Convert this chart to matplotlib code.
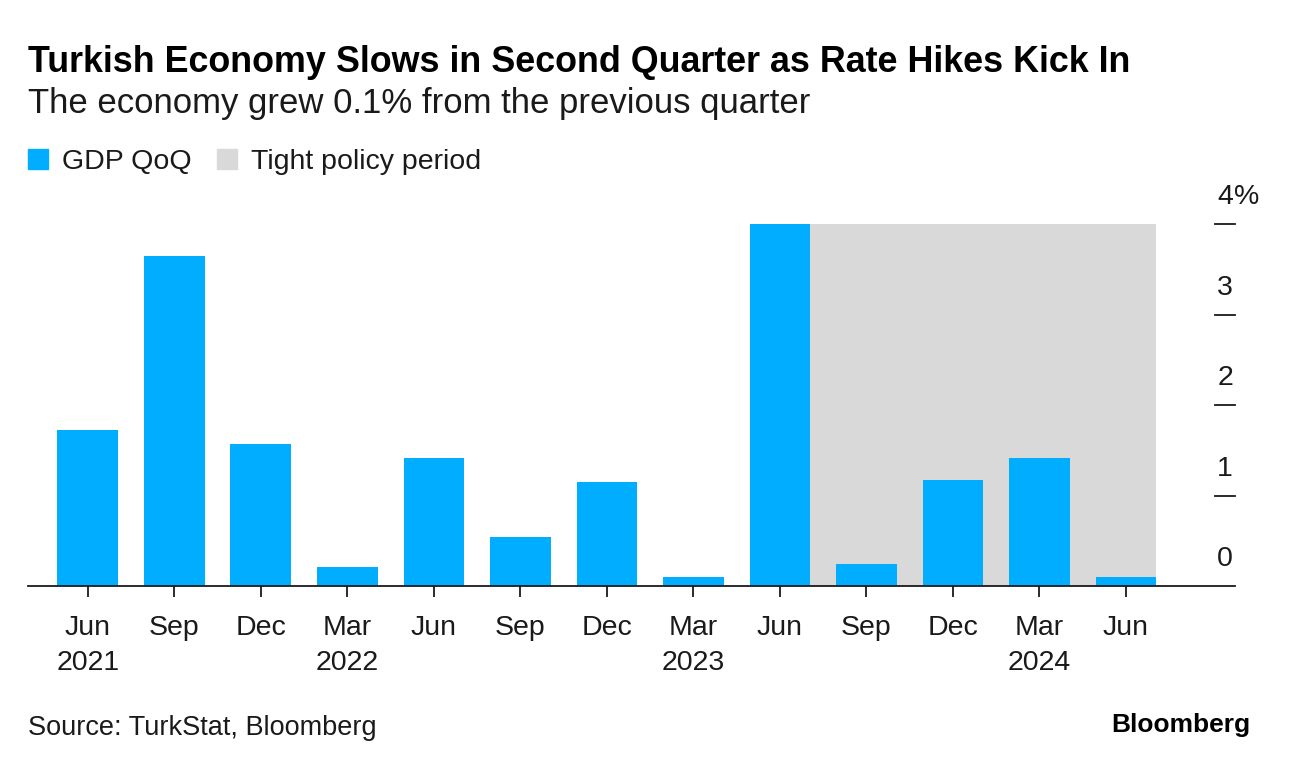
import numpy as np
import matplotlib.pyplot as plt
import matplotlib.transforms as mtransforms
from matplotlib.patches import Patch

plt.rcParams['font.family'] = ['Liberation Sans', 'DejaVu Sans']

# Turkish GDP quarter-on-quarter growth, %
quarters = ['Jun', 'Sep', 'Dec', 'Mar', 'Jun', 'Sep', 'Dec',
            'Mar', 'Jun', 'Sep', 'Dec', 'Mar', 'Jun']
years = ['2021', '', '', '2022', '', '', '', '2023', '', '', '', '2024', '']
gdp_qoq = [1.72, 3.65, 1.57, 0.21, 1.41, 0.54, 1.15,
           0.10, 4.00, 0.24, 1.17, 1.41, 0.10]
tight_start = 8   # index of Jun 2023, shading begins after this bar
tight_end = 12
y_ticks = [0, 1, 2, 3, 4]
y_labels = ['0', '1', '2', '3', '4']

BLUE = '#00adff'
GREY = '#d9d9d9'
INK = '#1a1a1a'

fig = plt.figure(figsize=(12.89, 7.70), dpi=100)
ax = fig.add_axes([28/1289, 1 - 586/770, (1235 - 28)/1289, (586 - 224)/770])

x = np.arange(len(gdp_qoq))
w = 0.7
ax.axvspan(tight_start + w/2, tight_end + w/2, ymin=0, ymax=1, color=GREY, lw=0, zorder=0)
ax.bar(x, gdp_qoq, width=w, color=BLUE, zorder=2)

ax.set_xlim(-0.69, 13.26)
ax.set_ylim(0, 4)

for s in ['top', 'right', 'left']:
    ax.spines[s].set_visible(False)
ax.spines['bottom'].set_linewidth(1.3)
ax.spines['bottom'].set_color(INK)
ax.spines['bottom'].set_zorder(3)

ax.set_xticks(x)
ax.set_xticklabels([q + '\n' + y for q, y in zip(quarters, years)],
                   fontsize=20.5, linespacing=1.45, color=INK)
ax.tick_params(axis='x', length=8, width=1.3, color=INK, pad=13)
ax.set_yticks([])

# right-side ticks with labels above them
trans = mtransforms.blended_transform_factory(ax.transAxes, ax.transData)
for v, lab in zip(y_ticks, y_labels):
    if v > 0:
        ax.plot([0.9835, 1.0], [v, v], transform=trans, color=INK, lw=1.3, clip_on=False)
    ax.text(0.9918, v + 0.15, lab, transform=trans, ha='center', va='bottom',
            fontsize=20.5, color=INK)
# percent sign hangs to the right of the top label
ax.text(0.9918 + 0.0075, y_ticks[-1] + 0.15, '%', transform=trans, ha='left', va='bottom',
        fontsize=20.5, color=INK)

fig.text(28/1289, 1 - 62/770, 'Turkish Economy Slows in Second Quarter as Rate Hikes Kick In',
         fontsize=25.8, fontweight='bold', va='center', ha='left', color='black')
fig.text(28/1289, 1 - 104/770, 'The economy grew 0.1% from the previous quarter',
         fontsize=25, va='center', ha='left', color=INK)

handles = [Patch(color=BLUE, label='GDP QoQ'), Patch(color=GREY, label='Tight policy period')]
fig.legend(handles=handles, loc='center left', bbox_to_anchor=(2/1289, 1 - 162/770),
           frameon=False, ncol=2, fontsize=20.5, handlelength=0.7, handleheight=0.7,
           handletextpad=0.5, columnspacing=0.9, labelcolor=INK)

fig.text(28/1289, 1 - 728/770, 'Source: TurkStat, Bloomberg', fontsize=19.5, va='center', ha='left',
         color=INK)
fig.text(1250/1289, 1 - 725/770, 'Bloomberg', fontsize=19, fontweight='bold', va='center', ha='right')

fig.savefig('out.png', dpi=100)
